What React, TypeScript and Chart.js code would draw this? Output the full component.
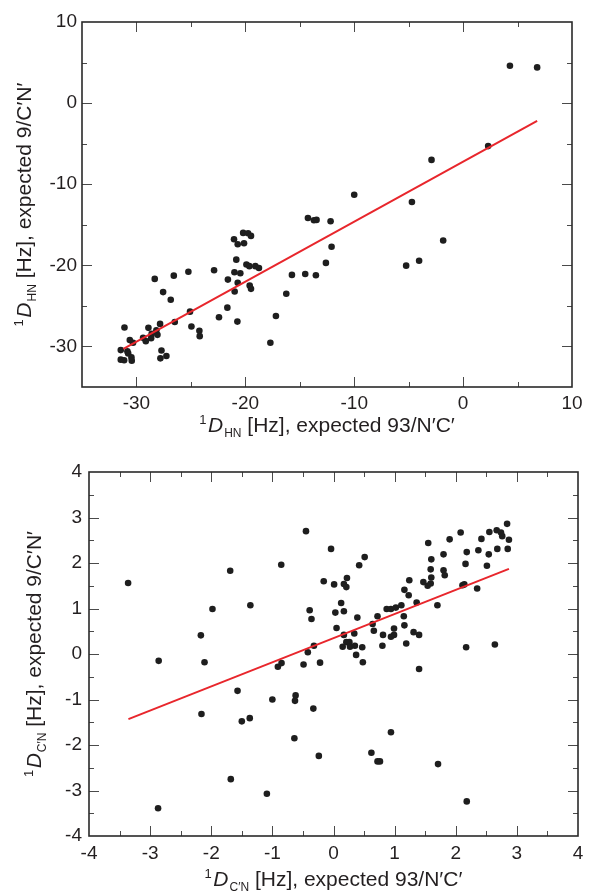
import React, { useEffect, useRef } from "react";
import { Chart, registerables } from "chart.js";
Chart.register(...registerables);

// ---------- Top panel data (1D_HN) ----------
const topX = [
  -10.0, -4.7, -2.9, 2.3, 4.3, 6.8,
  -14.25, -13.7, -13.46, -12.17, -21.04, -20.7, -20.2, -20.12, -19.75, -19.48,
  -12.08, -1.83, -20.83, -19.9, -19.63, -19.08, -18.75, -12.6, -5.23, -4.04,
  -25.23, -22.87, -21.0, -20.46, -26.57, -28.32, -21.6, -20.7, -15.72, -14.5,
  -13.52, -19.6, -19.48, -27.55, -20.98, -16.24, -26.85, -25.08, -21.65, -22.42,
  -17.19, -26.48, -20.73, -27.83, -24.95, -28.9, -24.22, -24.19, -31.1, -28.17,
  -28.6, -28.07, -29.39, -29.14, -28.65, -30.61, -30.31, -17.7, -31.44, -30.83,
  -30.76, -27.7, -30.46, -30.43, -27.8, -27.25, -31.44, -31.13,
];
const topY = [
  -11.3, -12.2, -7.0, -5.3, 4.6, 4.4,
  -14.16, -14.45, -14.4, -14.57, -16.78, -17.4, -16.0, -17.27, -16.04, -16.37,
  -17.7, -16.94, -19.3, -19.9, -20.1, -20.1, -20.33, -19.7, -20.04, -19.43,
  -20.8, -20.6, -20.86, -20.98, -21.27, -21.67, -21.76, -22.16, -21.18, -21.06,
  -21.22, -22.49, -22.9, -23.3, -23.22, -23.5, -24.24, -25.71, -25.22, -26.4,
  -26.24, -26.98, -26.94, -27.22, -27.55, -27.71, -28.08, -28.73, -27.67, -28.0,
  -28.45, -28.57, -28.94, -29.35, -28.98, -29.22, -29.55, -29.55, -30.45, -30.61,
  -30.86, -30.5, -31.35, -31.76, -31.47, -31.18, -31.63, -31.71,
];
const topFitX = [-31.2, 6.8];
const topFitY = [-30.3, -2.2];
const topTickValues = [-30, -20, -10, 0, 10];

// ---------- Bottom panel data (1D_C'N) ----------
const botX = [
  -3.36, -0.45, -0.855, -1.69, -1.98, -1.36, -2.17, -0.04, 0.51, 0.42,
  -0.16, 0.01, 0.17, 0.21, 0.22, 0.125, 0.03, 0.17, -0.39, -0.36,
  0.05, 0.39, 0.17, 0.34, -0.32, -0.42, 0.15, 0.21, 0.26, 0.27,
  0.35, 0.47, 0.37, 0.64, 0.66, 0.72, 0.81, 0.80, 0.87, 0.94,
  1.02, 1.11, 0.99, 0.99, 0.94, 1.15, 1.16, 1.19, 1.16, 1.23,
  1.24, 1.36, 1.31, 1.40, 1.47, 1.54, 1.59, 1.60, 1.59, 1.60,
  1.55, 1.70, 1.80, 1.82, 1.80, 1.90, 2.08, 2.11, 2.14, 2.16,
  2.18, 2.17, 2.35, 2.37, 2.42, 2.51, 2.54, 2.55, 2.64, 2.67,
  2.68, 2.74, 2.76, 2.84, 2.85, 2.87,
  -2.86, -2.11, -0.91, -0.85, -0.49, -0.22, 0.48, 1.40, -1.57, -1.0,
  -0.63, -0.62, -2.16, -1.50, -1.37, -0.33, -0.64, -0.24, 0.94, 0.62,
  0.72, 0.76, 1.71, -1.68, -1.09, -2.87, 2.18,
];
const botY = [
  1.56, 2.70, 1.96, 1.83, 0.99, 1.07, 0.41, 2.31, 2.13, 1.95,
  1.60, 1.53, 1.54, 1.47, 1.67, 1.12, 0.91, 0.94, 0.96, 0.77,
  0.57, 0.80, 0.42, 0.45, 0.18, 0.04, 0.16, 0.26, 0.26, 0.16,
  0.18, 0.15, -0.02, 0.66, 0.51, 0.83, 0.42, 0.18, 0.99, 0.99,
  1.02, 1.07, 0.56, 0.42, 0.38, 0.83, 0.63, 0.23, 1.41, 1.29,
  1.62, 1.13, 0.48, 0.42, 1.58, 1.50, 1.55, 1.68, 1.86, 2.08,
  2.44, 1.07, 1.84, 1.73, 2.19, 2.52, 2.67, 1.51, 1.53, 1.98,
  2.24, 0.15, 1.44, 2.28, 2.53, 1.94, 2.19, 2.68, 0.21, 2.72,
  2.31, 2.67, 2.59, 2.86, 2.31, 2.51,
  -0.15, -0.18, -0.28, -0.20, -0.23, -0.19, -0.18, -0.33, -0.81, -1.0,
  -1.03, -0.91, -1.32, -1.48, -1.41, -1.20, -1.85, -2.24, -1.72, -2.17,
  -2.36, -2.36, -2.42, -2.75, -3.07, -3.39, -3.24,
];
const botFitX = [-3.355, 2.87];
const botFitY = [-1.43, 1.87];
const botTickValues = [-4, -3, -2, -1, 0, 1, 2, 3, 4];

const FAM = '"Liberation Sans", Arial, Helvetica, sans-serif';
const INK = "#231f20";

type Run = { t: string; k: "n" | "i" | "sup" | "sub" };

function drawRuns(ctx: CanvasRenderingContext2D, runs: Run[], size: number, cx: number, cy: number, rotate: boolean) {
  const fontOf = (k: string) =>
    k === "i" ? `italic ${size}px ${FAM}` : k === "sup" ? `${Math.round(size * 0.62)}px ${FAM}` : k === "sub" ? `${Math.round(size * 0.55)}px ${FAM}` : `${size}px ${FAM}`;
  const dyOf = (k: string) => (k === "sup" ? -size * 0.4 : k === "sub" ? size * 0.25 : 0);
  const gapAfter = (k: string) => (k === "sup" ? 1.5 : k === "i" ? 1 : 0);
  ctx.save();
  const widths = runs.map((r) => {
    ctx.font = fontOf(r.k);
    return ctx.measureText(r.t).width + gapAfter(r.k);
  });
  const total = widths.reduce((a, b) => a + b, 0);
  ctx.translate(cx, cy);
  if (rotate) ctx.rotate(-Math.PI / 2);
  ctx.textBaseline = "alphabetic";
  ctx.textAlign = "left";
  ctx.fillStyle = INK;
  let x = -total / 2;
  runs.forEach((r, i) => {
    ctx.font = fontOf(r.k);
    ctx.fillText(r.t, x, dyOf(r.k));
    x += widths[i];
  });
  ctx.restore();
}

type PanelCfg = {
  W: number;
  H: number;
  area: { l: number; r: number; t: number; b: number };
  min: number;
  max: number;
  major: number;
  minor: number;
  tickValues: number[];
  xs: number[];
  ys: number[];
  fitX: number[];
  fitY: number[];
  xTitle: Run[];
  yTitle: Run[];
  xTitleY: number;
  yTitleX: number;
  yPad: number;
  xPad: number;
};

function Panel({ cfg, top }: { cfg: PanelCfg; top: number }) {
  const ref = useRef<HTMLCanvasElement | null>(null);
  useEffect(() => {
    const canvas = ref.current;
    if (!canvas) return;
    const { W, H, area } = cfg;
    const points = cfg.xs.map((x, i) => ({ x, y: cfg.ys[i] }));
    const fit = cfg.fitX.map((x, i) => ({ x, y: cfg.fitY[i] }));
    const decor = {
      id: "decor",
      afterDatasetsDraw(chart: any) {
        const { ctx, chartArea: a, scales } = chart;
        const sx = scales.x;
        const sy = scales.y;
        ctx.save();
        ctx.strokeStyle = "#4a4a4a";
        ctx.lineWidth = 1;
        const n = Math.round((cfg.max - cfg.min) / cfg.minor);
        for (let i = 1; i < n; i++) {
          const v = cfg.min + i * cfg.minor;
          const isMajor = Math.abs(v / cfg.major - Math.round(v / cfg.major)) < 1e-6;
          const len = isMajor ? 10 : 5;
          const px = Math.round(sx.getPixelForValue(v)) + 0.5;
          ctx.beginPath();
          ctx.moveTo(px, a.bottom);
          ctx.lineTo(px, a.bottom - len);
          ctx.moveTo(px, a.top);
          ctx.lineTo(px, a.top + len);
          ctx.stroke();
          const py = Math.round(sy.getPixelForValue(v)) + 0.5;
          ctx.beginPath();
          ctx.moveTo(a.left, py);
          ctx.lineTo(a.left + len, py);
          ctx.moveTo(a.right, py);
          ctx.lineTo(a.right - len, py);
          ctx.stroke();
        }
        ctx.strokeStyle = "#2a2a2a";
        ctx.lineWidth = 1.6;
        ctx.strokeRect(a.left, a.top, a.right - a.left, a.bottom - a.top);
        ctx.restore();
        const cxm = (a.left + a.right) / 2;
        const cym = (a.top + a.bottom) / 2;
        drawRuns(ctx, cfg.xTitle, 21, cxm, cfg.xTitleY, false);
        drawRuns(ctx, cfg.yTitle, 21, cfg.yTitleX, cym, true);
      },
    };
    const tickFont = { family: FAM, size: 19 };
    const chart = new Chart(canvas, {
      type: "scatter",
      data: {
        datasets: [
          {
            type: "line",
            data: fit,
            borderColor: "#e8262c",
            borderWidth: 2,
            pointRadius: 0,
            fill: false,
            tension: 0,
          } as any,
          {
            data: points,
            pointRadius: 3.3,
            pointBackgroundColor: "#1e1e1e",
            pointBorderWidth: 0,
            borderWidth: 0,
          },
        ],
      },
      options: {
        responsive: false,
        animation: false,
        devicePixelRatio: 1,
        layout: { padding: { top: area.t, right: W - area.r, left: 0, bottom: 0 } },
        plugins: { legend: { display: false }, tooltip: { enabled: false } },
        scales: {
          x: {
            type: "linear",
            min: cfg.min,
            max: cfg.max,
            afterBuildTicks: (s: any) => {
              s.ticks = cfg.tickValues.map((v) => ({ value: v }));
            },
            afterFit: (s: any) => {
              s.height = H - area.b;
            },
            grid: { display: false, drawTicks: false },
            border: { display: false },
            ticks: { font: tickFont, color: INK, padding: cfg.xPad, maxRotation: 0, autoSkip: false, callback: (v: any) => String(v) },
          },
          y: {
            type: "linear",
            min: cfg.min,
            max: cfg.max,
            afterBuildTicks: (s: any) => {
              s.ticks = cfg.tickValues.map((v) => ({ value: v }));
            },
            afterFit: (s: any) => {
              s.width = area.l;
            },
            grid: { display: false, drawTicks: false },
            border: { display: false },
            ticks: { font: tickFont, color: INK, padding: cfg.yPad, autoSkip: false, callback: (v: any) => String(v) },
          },
        },
      },
      plugins: [decor],
    } as any);
    return () => chart.destroy();
  }, [cfg]);
  return (
    <canvas
      ref={ref}
      width={cfg.W}
      height={cfg.H}
      style={{ position: "absolute", left: 0, top, width: cfg.W, height: cfg.H }}
    />
  );
}

const topCfg: PanelCfg = {
  W: 614,
  H: 440,
  area: { l: 82, r: 572, t: 22, b: 387 },
  min: -35,
  max: 10,
  major: 10,
  minor: 5,
  tickValues: topTickValues,
  xs: topX,
  ys: topY,
  fitX: topFitX,
  fitY: topFitY,
  xTitle: [
    { t: "1", k: "sup" },
    { t: "D", k: "i" },
    { t: "HN", k: "sub" },
    { t: " [Hz], expected 93/N\u2032C\u2032", k: "n" },
  ],
  yTitle: [
    { t: "1", k: "sup" },
    { t: "D", k: "i" },
    { t: "HN", k: "sub" },
    { t: " [Hz], expected 9/C\u2032N\u2032", k: "n" },
  ],
  xTitleY: 432,
  yTitleX: 31,
  yPad: 5,
  xPad: 5,
};

const botCfg: PanelCfg = {
  W: 614,
  H: 456,
  area: { l: 89, r: 578, t: 32, b: 396 },
  min: -4,
  max: 4,
  major: 1,
  minor: 0.5,
  tickValues: botTickValues,
  xs: botX,
  ys: botY,
  fitX: botFitX,
  fitY: botFitY,
  xTitle: [
    { t: "1", k: "sup" },
    { t: "D", k: "i" },
    { t: "C\u2032N", k: "sub" },
    { t: " [Hz], expected 93/N\u2032C\u2032", k: "n" },
  ],
  yTitle: [
    { t: "1", k: "sup" },
    { t: "D", k: "i" },
    { t: "C\u2032N", k: "sub" },
    { t: " [Hz], expected 9/C\u2032N\u2032", k: "n" },
  ],
  xTitleY: 446,
  yTitleX: 41,
  yPad: 7,
  xPad: 6,
};

export default function App() {
  return (
    <div style={{ position: "absolute", left: 0, top: 0, width: 614, height: 896, background: "#fff" }}>
      <Panel cfg={topCfg} top={0} />
      <Panel cfg={botCfg} top={440} />
    </div>
  );
}
